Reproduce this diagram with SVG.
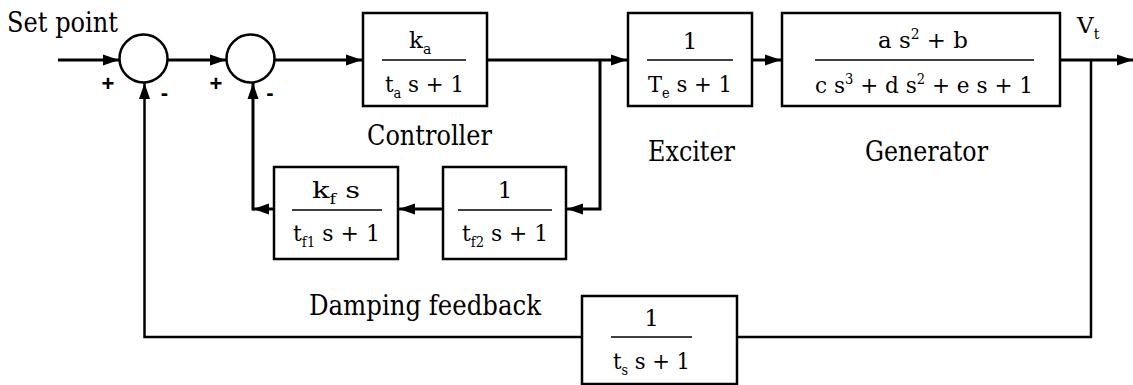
<svg xmlns="http://www.w3.org/2000/svg" width="1133" height="385" viewBox="0 0 1133 385">
<defs>
<marker id="arr" markerUnits="userSpaceOnUse" markerWidth="16" markerHeight="12" refX="16" refY="6" orient="auto">
<path d="M0,0.5 L16,6 L0,11.5 z" fill="#000"/>
</marker>
</defs>
<style>
.box{fill:#fff;stroke:#000;stroke-width:2.5}
.sum{fill:#fff;stroke:#000;stroke-width:2.5}
.frac{stroke:#000;stroke-width:1.6}
.w{fill:none;stroke:#000;stroke-width:3}
.t{fill:none;stroke:#000;stroke-width:2.5}
.m{font-family:'DejaVu Serif','Liberation Serif',serif;font-size:23px;fill:#000}
.lbl{font-family:'DejaVu Serif','Liberation Serif',serif;font-size:27px;fill:#000}
.sub{font-size:14px}
.sup{font-size:14px}
.sg{font-family:'Liberation Sans',Arial,sans-serif;font-weight:bold;font-size:22px;fill:#000}
</style>
<rect width="1133" height="385" fill="#fff"/>

<g id="connectors">
<path class="w" d="M58,60 H119" marker-end="url(#arr)"/>
<path class="w" d="M167,60 H226" marker-end="url(#arr)"/>
<path class="w" d="M274,60 H362" marker-end="url(#arr)"/>
<path class="w" d="M487,60 H627" marker-end="url(#arr)"/>
<path class="w" d="M752,60 H781" marker-end="url(#arr)"/>
<path class="w" d="M1060,60 H1133" marker-end="url(#arr)"/>
<path class="w" d="M600,60 V209 H567" marker-end="url(#arr)"/>
<path class="w" d="M443,209 H399" marker-end="url(#arr)"/>
<path class="w" d="M274,209 H253" marker-end="url(#arr)"/>
<path class="w" d="M253,210.5 V83" marker-end="url(#arr)"/>
<path class="t" d="M1091,60 V337 H737"/>
<path class="t" d="M582,337 H144.5 V83" marker-end="url(#arr)"/>
</g>

<g id="setpoint">
<text class="lbl" x="7" y="32" font-size="25" textLength="111" lengthAdjust="spacingAndGlyphs">Set point</text>
</g>

<g id="controller">
<rect class="box" x="363" y="13" width="124" height="93"/>
<line class="frac" x1="382" y1="60" x2="466" y2="60"/>
<text class="m" x="409" y="48">k<tspan class="sub" dy="6">a</tspan></text>
<text class="m" x="385" y="92" textLength="79" lengthAdjust="spacingAndGlyphs">t<tspan class="sub" dy="6">a</tspan><tspan dy="-6"> s + 1</tspan></text>
<text class="lbl" x="367" y="145" textLength="125" lengthAdjust="spacingAndGlyphs">Controller</text>
</g>

<g id="exciter">
<rect class="box" x="628" y="13" width="124" height="93"/>
<line class="frac" x1="647" y1="60" x2="733" y2="60"/>
<text class="m" x="690" y="49" text-anchor="middle">1</text>
<text class="m" x="648" y="92" textLength="84" lengthAdjust="spacingAndGlyphs">T<tspan class="sub" dy="6">e</tspan><tspan dy="-6"> s + 1</tspan></text>
<text class="lbl" x="648" y="161" textLength="87" lengthAdjust="spacingAndGlyphs">Exciter</text>
</g>

<g id="generator">
<rect class="box" x="782" y="13" width="278" height="93"/>
<line class="frac" x1="815" y1="60" x2="1034" y2="60"/>
<text class="m" x="878" y="48" textLength="90" lengthAdjust="spacingAndGlyphs">a s<tspan class="sup" dy="-9">2</tspan><tspan dy="9"> + b</tspan></text>
<text class="m" x="815" y="93" textLength="218" lengthAdjust="spacingAndGlyphs">c s<tspan class="sup" dy="-9">3</tspan><tspan dy="9"> + d s</tspan><tspan class="sup" dy="-9">2</tspan><tspan dy="9"> + e s + 1</tspan></text>
<text class="lbl" x="865" y="161" textLength="123" lengthAdjust="spacingAndGlyphs">Generator</text>
</g>

<g id="vt">
<text class="m" x="1077" y="33">V<tspan class="sub" dy="6">t</tspan></text>
</g>

<g id="kf">
<rect class="box" x="274" y="167" width="124" height="92"/>
<line class="frac" x1="292" y1="210" x2="382" y2="210"/>
<text class="m" x="312" y="198" textLength="48" lengthAdjust="spacingAndGlyphs">k<tspan class="sub" dy="6">f</tspan><tspan dy="-6">  s</tspan></text>
<text class="m" x="293" y="241" textLength="87" lengthAdjust="spacingAndGlyphs">t<tspan class="sub" dy="6">f1</tspan><tspan dy="-6"> s + 1</tspan></text>
</g>

<g id="tf2">
<rect class="box" x="443" y="167" width="123" height="92"/>
<line class="frac" x1="458" y1="210" x2="552" y2="210"/>
<text class="m" x="505" y="198" text-anchor="middle">1</text>
<text class="m" x="462" y="241" textLength="86" lengthAdjust="spacingAndGlyphs">t<tspan class="sub" dy="6">f2</tspan><tspan dy="-6"> s + 1</tspan></text>
</g>

<g id="damping">
<text class="lbl" x="309" y="315" textLength="232" lengthAdjust="spacingAndGlyphs">Damping feedback</text>
</g>

<g id="ts">
<rect class="box" x="582" y="296" width="155" height="88"/>
<line class="frac" x1="611" y1="337" x2="692" y2="337"/>
<text class="m" x="651.5" y="326" text-anchor="middle">1</text>
<text class="m" x="613" y="369" textLength="77" lengthAdjust="spacingAndGlyphs">t<tspan class="sub" dy="6">s</tspan><tspan dy="-6">  s + 1</tspan></text>
</g>

<g id="sum1">
<circle class="sum" cx="143.5" cy="58.5" r="24"/>
<text class="sg" x="108" y="91" text-anchor="middle">+</text>
<text class="sg" x="164.5" y="100" text-anchor="middle">-</text>
</g>
<g id="sum2">
<circle class="sum" cx="250.5" cy="58.5" r="24"/>
<text class="sg" x="216" y="91" text-anchor="middle">+</text>
<text class="sg" x="270" y="100" text-anchor="middle">-</text>
</g>
</svg>
